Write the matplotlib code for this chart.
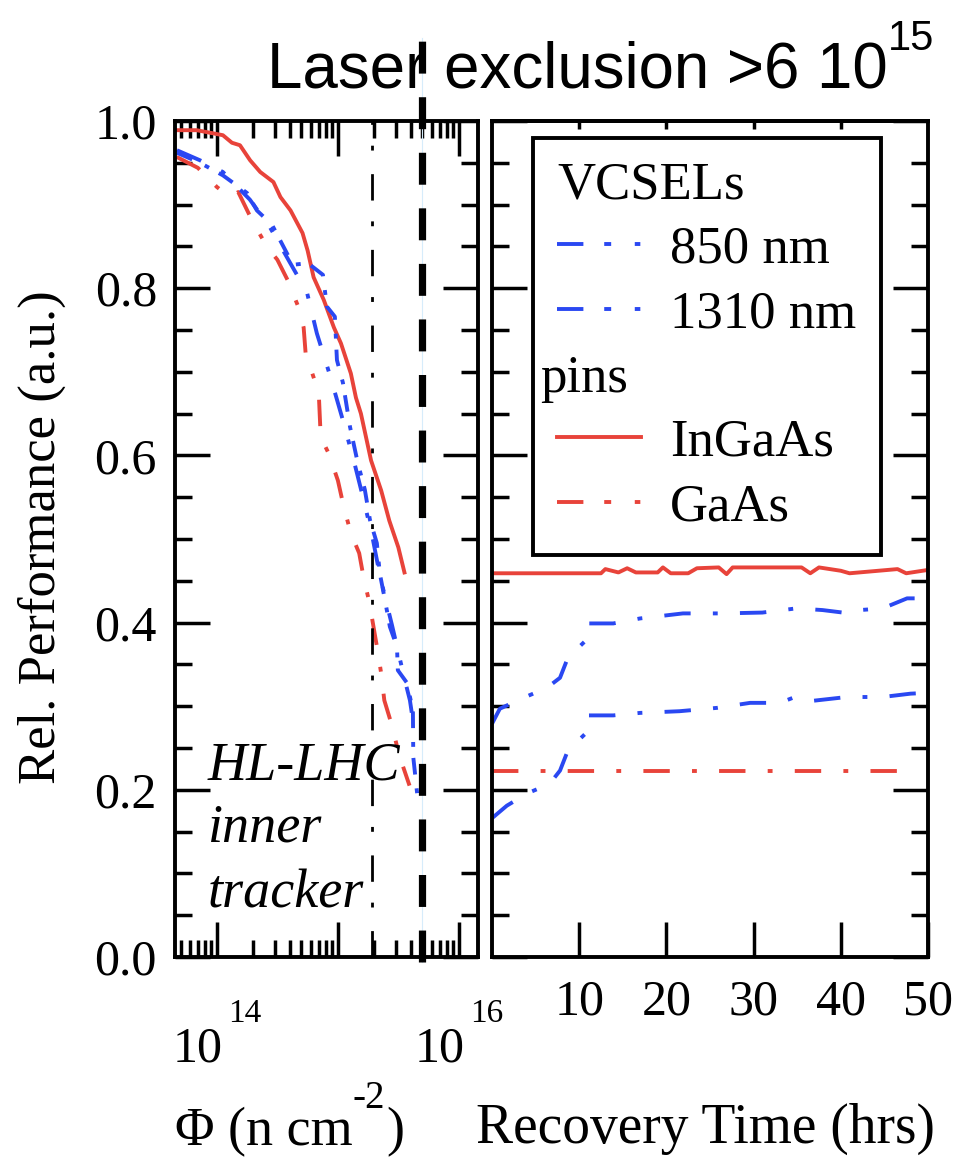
import numpy as np
import matplotlib
matplotlib.use("Agg")
import matplotlib.pyplot as plt
from matplotlib.lines import Line2D
from matplotlib import font_manager
from matplotlib.ticker import MultipleLocator, LogLocator, NullFormatter, FormatStrFormatter

# --- data ---
# left panel: relative performance vs fluence (n cm^-2)
fluence_ingaas = [4.65e13, 6.8e13, 1.12e14, 1.33e14, 1.55e14, 1.88e14, 2.28e14, 2.93e14,
                  3.35e14, 4.06e14, 5.1e14, 5.62e14, 6.3e14, 7.64e14, 9.27e14, 1.06e15,
                  1.28e15, 1.41e15, 1.55e15, 1.88e15, 2.28e15, 2.66e15, 3.16e15, 3.55e15]
perf_ingaas = [0.989, 0.989, 0.983, 0.974, 0.971, 0.953, 0.939, 0.927,
               0.909, 0.893, 0.866, 0.845, 0.813, 0.786, 0.753, 0.734,
               0.698, 0.669, 0.650, 0.594, 0.558, 0.522, 0.490, 0.460]

fluence_gaas = [4.65e13, 6.95e13, 1.0e14, 1.28e14, 1.5e14, 2.0e14, 2.61e14, 3.16e14,
                3.83e14, 4.73e14, 5.21e14, 5.41e14, 6.31e14, 6.95e14, 7.21e14, 8.41e14,
                1.0e15, 1.12e15, 1.28e15, 1.5e15, 1.65e15, 1.81e15, 2.15e15, 2.28e15,
                2.42e15, 2.77e15, 3.22e15, 3.91e15]
perf_gaas = [0.957, 0.944, 0.921, 0.909, 0.915, 0.878, 0.849, 0.834,
             0.810, 0.777, 0.753, 0.722, 0.693, 0.674, 0.622, 0.602,
             0.570, 0.538, 0.507, 0.483, 0.450, 0.426, 0.363, 0.339,
             0.307, 0.279, 0.241, 0.205]

fluence_850 = [4.67e13, 7.24e13, 1.12e14, 1.87e14, 2.74e14, 3.79e14, 5.55e14, 6.70e14,
               8.59e14, 1.10e15, 1.38e15, 1.67e15, 1.95e15, 2.22e15, 2.49e15, 2.80e15,
               3.13e15, 3.58e15, 3.94e15, 4.17e15]
perf_850 = [0.965, 0.953, 0.939, 0.906, 0.873, 0.837, 0.795, 0.746,
            0.696, 0.642, 0.589, 0.541, 0.499, 0.457, 0.427, 0.397,
            0.367, 0.331, 0.307, 0.283]

fluence_1310 = [4.67e13, 7.24e13, 1.12e14, 1.77e14, 2.14e14, 2.85e14, 4.25e14, 5.65e14,
                7.52e14, 8.11e14, 9.44e14, 9.82e14, 1.10e15, 1.26e15, 1.46e15, 1.67e15,
                1.84e15, 2.10e15, 2.22e15, 2.45e15, 2.69e15, 3.08e15, 3.13e15, 3.72e15,
                4.17e15, 4.2e15, 4.58e15]
perf_1310 = [0.962, 0.950, 0.935, 0.914, 0.893, 0.876, 0.828, 0.830,
             0.816, 0.778, 0.766, 0.714, 0.687, 0.634, 0.591, 0.559,
             0.523, 0.495, 0.459, 0.427, 0.395, 0.371, 0.343, 0.328,
             0.295, 0.239, 0.188]

hl_lhc_limit = 1.91e15      # dash-dot marker
laser_limit = 5.0e15        # thick dashed marker

# right panel: relative performance vs recovery time (hrs)
time_ingaas = [0, 12.5, 13, 14.5, 15.5, 16.5, 19, 19.6, 20.5, 22.5, 23.5,
               26, 26.9, 27.6, 35.5, 36.5, 37.5, 40, 41, 46.5, 47.5, 50]
rec_ingaas = [0.459, 0.459, 0.464, 0.460, 0.465, 0.460, 0.460, 0.466, 0.459, 0.459, 0.465,
              0.466, 0.458, 0.466, 0.466, 0.459, 0.466, 0.462, 0.459, 0.464, 0.459, 0.463]

time_gaas = [0, 48.2]
rec_gaas = [0.223, 0.223]

time_850 = [0, 0.9, 3.6, 6.3, 7.8, 8.7, 10.7, 10.8, 13.9, 17, 21.9,
            26.5, 31, 34.9, 37.9, 41, 42.2, 44.8, 47.6, 50]
rec_850 = [0.279, 0.297, 0.310, 0.322, 0.334, 0.358, 0.378, 0.399, 0.399, 0.405, 0.411,
           0.411, 0.412, 0.417, 0.415, 0.411, 0.415, 0.417, 0.429, 0.429]

time_1310 = [0, 1.7, 4.1, 6.6, 7.8, 8.7, 10.7, 10.8, 13.9, 17, 21.5,
             25.8, 29.6, 33, 34.5, 36.4, 40.7, 44.8, 48, 50]
rec_1310 = [0.166, 0.181, 0.196, 0.207, 0.223, 0.247, 0.267, 0.289, 0.289, 0.292, 0.294,
            0.298, 0.304, 0.304, 0.310, 0.306, 0.311, 0.311, 0.315, 0.316]

time_ticks = [10, 20, 30, 40, 50]

# --- style ---
RED = '#e8433a'
BLUE = '#2a48f2'
LW = 2.8
plt.rcParams['font.family'] = ['Liberation Serif', 'DejaVu Serif']
plt.rcParams['lines.scale_dashes'] = False
DASHDOT = (19, 16, 3.5, 16)

W, H = 964, 1157
fig = plt.figure(figsize=(W / 100, H / 100), dpi=100)


def img_text(x, y, s, **kw):
    # place text using pixel coords of the reference picture (origin top-left)
    kw.setdefault('va', 'baseline')
    return fig.text(x / W, 1 - y / H, s, **kw)


ax1 = fig.add_axes([175 / W, 1 - 957 / H, 303 / W, 836 / H])
ax2 = fig.add_axes([492 / W, 1 - 957 / H, 436 / W, 836 / H])

for ax in (ax1, ax2):
    for sp in ax.spines.values():
        sp.set_linewidth(2.8)
    ax.set_ylim(0, 1.0)
    ax.yaxis.set_major_locator(MultipleLocator(0.2))
    ax.yaxis.set_minor_locator(MultipleLocator(0.05))
    ax.tick_params(which='major', direction='in', length=25, width=2.5,
                   left=True, right=True, labelsize=36, pad=13)
    ax.tick_params(which='minor', direction='in', length=12, width=2.5,
                   left=True, right=True)

# ---- left panel ----
ax1.set_xscale('log')
ax1.set_xlim(4.5e13, 1.44e16)
ax1.xaxis.set_major_locator(LogLocator(base=10))
ax1.xaxis.set_minor_locator(LogLocator(base=10, subs=np.arange(2, 10)))
ax1.xaxis.set_major_formatter(NullFormatter())
ax1.xaxis.set_minor_formatter(NullFormatter())
ax1.tick_params(which='both', top=True, bottom=True)
ax1.yaxis.set_major_formatter(FormatStrFormatter('%.1f'))

ax1.plot(fluence_ingaas, perf_ingaas, color=RED, lw=LW)
ax1.plot(fluence_gaas, perf_gaas, color=RED, lw=LW, dashes=DASHDOT)
ax1.plot(fluence_850, perf_850, color=BLUE, lw=LW, dashes=DASHDOT)
ax1.plot(fluence_1310, perf_1310, color=BLUE, lw=LW, dashes=(12, 10, 3.5, 8))

ax1.axvline(hl_lhc_limit, color='black', lw=2, dashes=(19, 17, 3.5, 15))
ax1.axvline(laser_limit, ymin=-0.006, ymax=1.099, color='#d6ecfb', lw=0.8,
            clip_on=False, zorder=4)
ax1.axvline(laser_limit, ymin=-0.006, ymax=1.099, color='black', lw=5.2,
            dashes=(23, 17), clip_on=False, zorder=5)

for txt, yb in (('HL-LHC', 780), ('inner', 842), ('tracker', 908)):
    ax1.text(0.109, (957 - yb) / 836, txt, transform=ax1.transAxes, fontsize=39,
             style='italic', va='baseline', ha='left', zorder=6)

# x tick labels 10^14 and 10^16 drawn as base + raised exponent
for val, exp in ((1e14, '14'), (1e16, '16')):
    ax1.annotate('10', xy=(val, 0), xycoords=('data', 'axes fraction'),
                 xytext=(6, -105), textcoords='offset pixels',
                 ha='right', va='baseline', fontsize=36, annotation_clip=False)
    ax1.annotate(exp, xy=(val, 0), xycoords=('data', 'axes fraction'),
                 xytext=(11, -65), textcoords='offset pixels',
                 ha='left', va='baseline', fontsize=24, annotation_clip=False)

# ---- right panel ----
ax2.set_xlim(0, 50)
ax2.set_xticks(time_ticks)
ax2.set_xticklabels([str(t) for t in time_ticks])
ax2.tick_params(axis='y', which='both', labelleft=False)
ax2.tick_params(axis='x', which='major', pad=16)
sec = ax2.secondary_xaxis('top')
sec.set_xticks(time_ticks[:-1])
sec.tick_params(direction='in', length=6, width=2.5, labeltop=False)
sec.spines['top'].set_linewidth(2.8)

ax2.plot(time_ingaas, rec_ingaas, color=RED, lw=LW)
ax2.plot(time_gaas, rec_gaas, color=RED, lw=LW, dashes=DASHDOT)
ax2.plot(time_850, rec_850, color=BLUE, lw=LW, dashes=DASHDOT)
ax2.plot(time_1310, rec_1310, color=BLUE, lw=LW, dashes=DASHDOT)

key_dash = (19, 15, 5, 17, 4, 60)
handles = [Line2D([], [], color='none'),
           Line2D([], [], color=BLUE, lw=LW, dashes=key_dash),
           Line2D([], [], color=BLUE, lw=LW, dashes=key_dash),
           Line2D([], [], color='none'),
           Line2D([], [], color=RED, lw=LW),
           Line2D([], [], color=RED, lw=LW, dashes=key_dash)]
labels = ['VCSELs', '850 nm', '1310 nm', 'pins', 'InGaAs', 'GaAs']
leg = ax2.legend(handles, labels, loc='upper left', bbox_to_anchor=(0.094, 0.980),
                 borderaxespad=0, fancybox=False, framealpha=1, edgecolor='black',
                 fontsize=38, handlelength=1.6, handletextpad=0.55,
                 labelspacing=0.31, borderpad=0.45)
leg.get_frame().set_linewidth(2.8)
leg_texts = leg.get_texts()
leg_texts[0].set_x(-113)
leg_texts[3].set_x(-130)

# ---- labels ----
img_text(42, 537, 'Rel. Performance (a.u.)', rotation=90, fontsize=38,
         ha='center', va='center')
img_text(175, 1145, 'Φ (n cm', fontsize=39)
img_text(353, 1108, '-2', fontsize=28)
img_text(386, 1145, ')', fontsize=39)
img_text(705, 1143, 'Recovery Time (hrs)', fontsize=40, ha='center')

names = {f.name for f in font_manager.fontManager.ttflist}
if 'Liberation Sans Narrow' in names:
    img_text(267, 87, 'Laser exclusion >6 10', fontsize=55, family='Liberation Sans Narrow')
else:
    img_text(267, 87, 'Laser exclusion >6 10', fontsize=45.8, family='Liberation Sans')
img_text(888, 50, '15', fontsize=30, family='Liberation Sans')

fig.savefig('out.png', dpi=100)
